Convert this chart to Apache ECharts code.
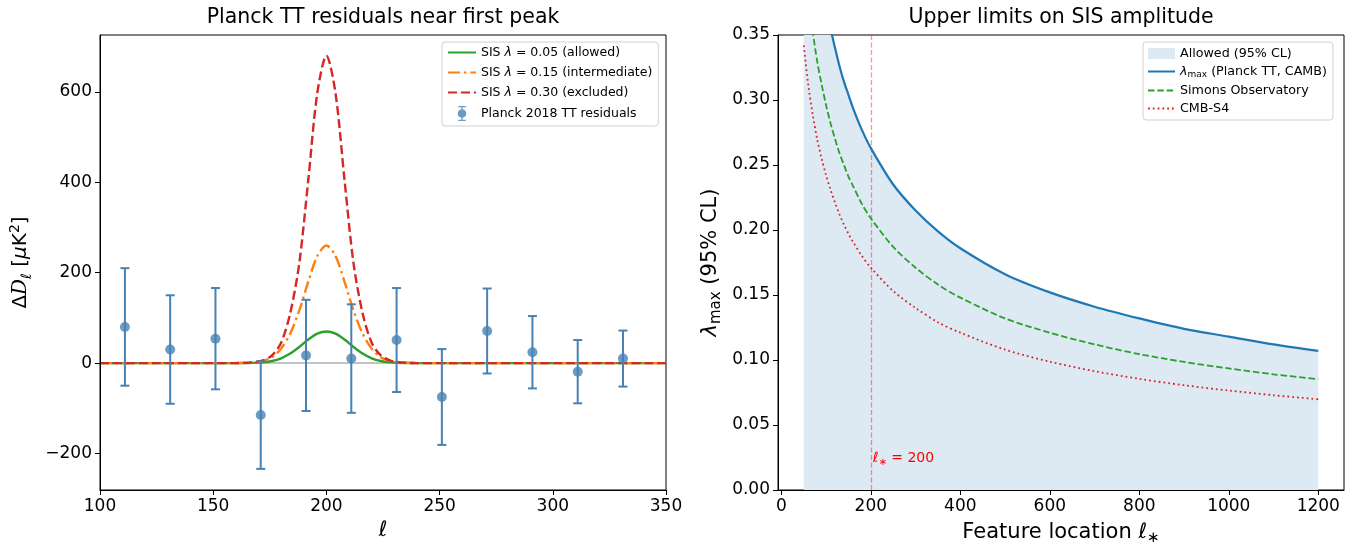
<!DOCTYPE html>
<html><head><meta charset="utf-8">
<script src="https://cdn.jsdelivr.net/npm/echarts@6/dist/echarts.min.js"></script>
<style>html,body{margin:0;padding:0;background:#fff}#c{width:1354px;height:542px}</style>
</head><body><div id="c"></div>
<script>
const FONT = 'DejaVu Sans';
// ---- Left panel data ----
const residEll = [111,131,151,171,191,211,231,251,271,291,311,331];
const residVal = [80,30,54,-115,17,10,51,-75,71,24,-19,10];
const residErr = [130,120,112,119,123,120,115,106,94,80,70,62];
const curveEll = [100,160,164,168,172,176,180,184,188,192,196,200,204,208,212,216,220,224,228,232,236,240,350];
const sis005 = [0,0,0.2,0.5,1.7,4.6,10.6,21,35.5,52,65,70,65,52,35.5,21,10.6,4.6,1.7,0.5,0.2,0,0];
const sis015 = [0,0,0.4,1.5,5,13,32,65,116,180,237,260,237,180,116,65,32,13,5,1.5,0.4,0,0];
const sis030 = [0,0,0.5,2,6,17,45,110,220,405,598,680,598,405,220,110,45,17,6,2,0.5,0,0];
const leftXTicks = [100,150,200,250,300,350];
const leftYTicks = [-200,0,200,400,600];
// ---- Right panel data ----
const starEll = [50,60,70,80,90,100,110,120,130,140,150,160,180,200,250,300,350,400,500,600,700,800,900,1000,1100,1200];
const lamPlanck = [0.526,0.480,0.445,0.416,0.392,0.372,0.355,0.340,0.326,0.314,0.304,0.294,0.277,0.263,0.235,0.215,0.199,0.186,0.166,0.152,0.141,0.132,0.124,0.118,0.112,0.107];
const lamSO = [0.418,0.382,0.353,0.330,0.312,0.296,0.282,0.270,0.259,0.250,0.241,0.234,0.220,0.209,0.187,0.171,0.158,0.148,0.132,0.121,0.112,0.1045,0.0985,0.0935,0.089,0.0853];
const lamS4 = [0.342,0.312,0.289,0.270,0.255,0.242,0.231,0.221,0.212,0.204,0.197,0.191,0.180,0.171,0.153,0.140,0.129,0.121,0.108,0.0987,0.0914,0.0855,0.0806,0.0765,0.0729,0.0698];
const rightXTicks = [0,200,400,600,800,1000,1200];
const rightYTicks = [0,0.05,0.10,0.15,0.20,0.25,0.30,0.35];
const featureEll = 200;
const featureLabelPos = [204, 0.024];

const pairs = (xs, ys) => xs.map((x, i) => [x, ys[i]]);
const chart = echarts.init(document.getElementById('c'), null, {renderer: 'canvas'});

const axisCommon = {
  z: 10,
  axisLine: {show: true, onZero: false, lineStyle: {color: '#000', width: 1}},
  axisTick: {show: true, length: 5, lineStyle: {color: '#000', width: 1}},
  splitLine: {show: false},
  axisLabel: {color: '#000', fontFamily: FONT, fontSize: 17, margin: 8}
};
const minus = v => (v < 0 ? '\u2212' + Math.abs(v) : String(v));

const legendRichLeft = {
  t: {fontFamily: FONT, fontSize: 12.5, lineHeight: 15, color: '#000'},
  i: {fontFamily: FONT, fontSize: 12.5, lineHeight: 15, fontStyle: 'italic', color: '#000'}
};
const legendRichRight = {
  t: {fontFamily: FONT, fontSize: 12.7, lineHeight: 15, color: '#000'},
  i: {fontFamily: FONT, fontSize: 12.7, lineHeight: 15, fontStyle: 'italic', color: '#000'},
  sub: {fontFamily: FONT, fontSize: 9, lineHeight: 9, color: '#000', verticalAlign: 'bottom'}
};
function fmtLam(name) {
  if (name.indexOf('λmax') === 0) return '{i|λ}{sub|max}{t|' + name.slice(4) + '}';
  if (name.indexOf('λ') >= 0) return '{t|' + name.replace('λ', '}{i|λ}{t|') + '}';
  return '{t|' + name + '}';
}
const noSym = {color: 'rgba(0,0,0,0)', borderColor: 'rgba(0,0,0,0)', borderWidth: 0};
const errIcon = 'path://M1,0H9V1.4H1Z M4.3,0H5.7V16H4.3Z M1,14.6H9V16H1Z M5,3.4A4.6,4.6 0 1 1 4.99,3.4Z';

const option = {
  animation: false,
  backgroundColor: '#fff',
  grid: [
    {left: 100, top: 35, width: 566, height: 455, outerBoundsMode: 'none', containLabel: false, show: true, borderColor: '#000', borderWidth: 1, backgroundColor: 'transparent'},
    {left: 778, top: 35, width: 566, height: 455, outerBoundsMode: 'none', containLabel: false, show: true, borderColor: '#000', borderWidth: 1, backgroundColor: 'transparent'}
  ],
  graphic: [
    {type: 'text', x: 383, y: 18, style: {text: 'Planck TT residuals near first peak', fontFamily: FONT, fontSize: 20.5, fill: '#000', textAlign: 'center', textVerticalAlign: 'middle'}},
    {type: 'text', x: 1061, y: 18, style: {text: 'Upper limits on SIS amplitude', fontFamily: FONT, fontSize: 20.5, fill: '#000', textAlign: 'center', textVerticalAlign: 'middle'}}
  ],
  xAxis: [
    Object.assign({}, axisCommon, {
      type: 'value', gridIndex: 0, min: 100, max: 350, interval: 50,
      axisLabel: Object.assign({}, axisCommon.axisLabel, {customValues: leftXTicks, formatter: v => String(v)}),
      axisTick: Object.assign({}, axisCommon.axisTick, {customValues: leftXTicks}),
      name: '{i|ℓ}', nameLocation: 'middle', nameGap: 30,
      nameTextStyle: {rich: {i: {fontFamily: FONT, fontSize: 21, fontStyle: 'italic', color: '#000'}}}
    }),
    Object.assign({}, axisCommon, {
      type: 'value', gridIndex: 1, min: -7.5, max: 1257.5,
      axisLabel: Object.assign({}, axisCommon.axisLabel, {customValues: rightXTicks, formatter: v => String(v)}),
      axisTick: Object.assign({}, axisCommon.axisTick, {customValues: rightXTicks}),
      name: '{a|Feature location }{i|ℓ}{s|∗}', nameLocation: 'middle', nameGap: 30,
      nameTextStyle: {rich: {
        a: {fontFamily: FONT, fontSize: 21, color: '#000', lineHeight: 26},
        i: {fontFamily: FONT, fontSize: 21, fontStyle: 'italic', color: '#000', lineHeight: 26},
        s: {fontFamily: FONT, fontSize: 15, color: '#000', lineHeight: 16, verticalAlign: 'bottom'}
      }}
    })
  ],
  yAxis: [
    Object.assign({}, axisCommon, {
      type: 'value', gridIndex: 0, min: -280.75, max: 725.75,
      axisLabel: Object.assign({}, axisCommon.axisLabel, {customValues: leftYTicks, formatter: minus}),
      axisTick: Object.assign({}, axisCommon.axisTick, {customValues: leftYTicks}),
      name: '{a|Δ}{d|D}{s|ℓ}{a| [}{m|μ}{a|K}{p|2}{a|]}', nameLocation: 'middle', nameGap: 66, nameRotate: 90,
      nameTextStyle: {rich: {
        a: {fontFamily: FONT, fontSize: 20, color: '#000', lineHeight: 26},
        d: {fontFamily: 'DejaVu Serif', fontSize: 20, fontStyle: 'italic', color: '#000', lineHeight: 26},
        s: {fontFamily: FONT, fontSize: 14, fontStyle: 'italic', color: '#000', lineHeight: 15, verticalAlign: 'bottom'},
        m: {fontFamily: FONT, fontSize: 20, fontStyle: 'italic', color: '#000', lineHeight: 26},
        p: {fontFamily: FONT, fontSize: 14, color: '#000', lineHeight: 15, verticalAlign: 'top'}
      }}
    }),
    Object.assign({}, axisCommon, {
      type: 'value', gridIndex: 1, min: 0, max: 0.35, interval: 0.05,
      axisLabel: Object.assign({}, axisCommon.axisLabel, {formatter: v => v.toFixed(2)}),
      name: '{i|λ}{sub|max}{a| (95% CL)}', nameLocation: 'middle', nameGap: 54, nameRotate: 90,
      nameTextStyle: {rich: {
        a: {fontFamily: FONT, fontSize: 21, color: '#000', lineHeight: 26},
        i: {fontFamily: FONT, fontSize: 21, fontStyle: 'italic', color: '#000', lineHeight: 26},
        sub: {fontFamily: FONT, fontSize: 15, color: '#000', lineHeight: 15, verticalAlign: 'bottom'}
      }}
    })
  ],
  legend: [
    {
      left: 442, top: 42, orient: 'vertical', selectedMode: false,
      data: [
        {name: 'SIS λ = 0.05 (allowed)', itemStyle: noSym},
        {name: 'SIS λ = 0.15 (intermediate)', itemStyle: noSym},
        {name: 'SIS λ = 0.30 (excluded)', itemStyle: noSym},
        {name: 'Planck 2018 TT residuals', icon: errIcon, itemStyle: {color: '#4682b4'}}
      ],
      itemWidth: 28, itemHeight: 15, itemGap: 7,
      padding: [4, 6, 5, 5],
      backgroundColor: '#fff', borderColor: '#d0d0d0', borderWidth: 1, borderRadius: 3,
      textStyle: {fontFamily: FONT, fontSize: 12.5, color: '#000', rich: legendRichLeft},
      formatter: fmtLam
    },
    {
      left: 1143, top: 42, orient: 'vertical', selectedMode: false,
      data: [
        {name: 'Allowed (95% CL)', icon: 'rect', itemStyle: {color: '#dde9f3'}},
        {name: 'λmax (Planck TT, CAMB)', itemStyle: noSym},
        {name: 'Simons Observatory', itemStyle: noSym},
        {name: 'CMB-S4', itemStyle: noSym}
      ],
      itemWidth: 27, itemHeight: 11, itemGap: 5,
      padding: [5, 6, 5, 4],
      backgroundColor: '#fff', borderColor: '#d0d0d0', borderWidth: 1, borderRadius: 3,
      textStyle: {fontFamily: FONT, fontSize: 12.7, color: '#000', rich: legendRichRight},
      formatter: fmtLam
    }
  ],
  series: [
    // ---- left panel ----
    {
      type: 'line', name: 'SIS λ = 0.05 (allowed)', xAxisIndex: 0, yAxisIndex: 0,
      data: pairs(curveEll, sis005), symbol: 'none', smooth: 0.3,
      lineStyle: {color: '#2ca02c', width: 2.4}, itemStyle: {color: '#2ca02c'}, z: 3,
      markLine: {silent: true, symbol: 'none', label: {show: false},
        lineStyle: {color: '#b0b0b0', width: 1.5, type: 'solid'}, data: [{yAxis: 0}], z: 1}
    },
    {
      type: 'line', name: 'SIS λ = 0.15 (intermediate)', xAxisIndex: 0, yAxisIndex: 0,
      data: pairs(curveEll, sis015), symbol: 'none', smooth: 0.3,
      lineStyle: {color: '#ff7f0e', width: 2.4, type: [12, 4, 2.4, 4]}, itemStyle: {color: '#ff7f0e'}, z: 3
    },
    {
      type: 'line', name: 'SIS λ = 0.30 (excluded)', xAxisIndex: 0, yAxisIndex: 0,
      data: pairs(curveEll, sis030), symbol: 'none', smooth: 0.3,
      lineStyle: {color: '#d62728', width: 2.4, type: [9, 4]}, itemStyle: {color: '#d62728'}, z: 3
    },
    {
      type: 'custom', name: 'errbars', xAxisIndex: 0, yAxisIndex: 0, silent: true, z: 4,
      data: residEll.map((x, i) => [x, residVal[i] - residErr[i], residVal[i] + residErr[i]]),
      encode: {x: 0, y: [1, 2]},
      renderItem: function (params, api) {
        const x = api.value(0);
        const lo = api.coord([x, api.value(1)]);
        const hi = api.coord([x, api.value(2)]);
        const cw = 4.5;
        const st = {stroke: '#4682b4', lineWidth: 2};
        return {type: 'group', children: [
          {type: 'line', shape: {x1: lo[0], y1: lo[1], x2: hi[0], y2: hi[1]}, style: st},
          {type: 'line', shape: {x1: lo[0] - cw, y1: lo[1], x2: lo[0] + cw, y2: lo[1]}, style: st},
          {type: 'line', shape: {x1: hi[0] - cw, y1: hi[1], x2: hi[0] + cw, y2: hi[1]}, style: st}
        ]};
      }
    },
    {
      type: 'scatter', name: 'Planck 2018 TT residuals', xAxisIndex: 0, yAxisIndex: 0,
      data: pairs(residEll, residVal), symbolSize: 10, itemStyle: {color: '#4682b4'}, z: 5
    },
    // ---- right panel ----
    {
      type: 'line', name: 'Allowed (95% CL)', xAxisIndex: 1, yAxisIndex: 1,
      data: pairs(starEll, lamPlanck), symbol: 'none', smooth: 0.3, clip: true,
      lineStyle: {width: 0, color: '#dde9f3'}, itemStyle: {color: '#dde9f3'},
      areaStyle: {color: '#dde9f3', opacity: 1}, z: 1,
      markLine: {silent: true, symbol: 'none', label: {show: false},
        lineStyle: {color: 'rgba(240,60,60,0.55)', width: 1.3, type: [5, 2.5]}, data: [{xAxis: featureEll}], z: 2},
      markPoint: {silent: true, symbol: 'circle', symbolSize: 0,
        data: [{coord: featureLabelPos}],
        label: {show: true, position: 'right', distance: 0, color: '#ff0000',
          formatter: '{i|ℓ}{s|∗}{t| = 200}',
          rich: {
            i: {fontFamily: FONT, fontSize: 14, fontStyle: 'italic', color: '#ff0000', lineHeight: 18},
            s: {fontFamily: FONT, fontSize: 10, color: '#ff0000', lineHeight: 13, verticalAlign: 'bottom'},
            t: {fontFamily: FONT, fontSize: 14, color: '#ff0000', lineHeight: 18}
          }}}
    },
    {
      type: 'line', name: 'λmax (Planck TT, CAMB)', xAxisIndex: 1, yAxisIndex: 1,
      data: pairs(starEll, lamPlanck), symbol: 'none', smooth: 0.3, clip: true,
      lineStyle: {color: '#1f77b4', width: 2.2}, itemStyle: {color: '#1f77b4'}, z: 4
    },
    {
      type: 'line', name: 'Simons Observatory', xAxisIndex: 1, yAxisIndex: 1,
      data: pairs(starEll, lamSO), symbol: 'none', smooth: 0.3, clip: true,
      lineStyle: {color: '#2ca02c', width: 1.8, type: [6.5, 2.8]}, itemStyle: {color: '#2ca02c'}, z: 4
    },
    {
      type: 'line', name: 'CMB-S4', xAxisIndex: 1, yAxisIndex: 1,
      data: pairs(starEll, lamS4), symbol: 'none', smooth: 0.3, clip: true,
      lineStyle: {color: '#d62728', width: 1.8, type: [1.8, 3]}, itemStyle: {color: '#d62728'}, z: 4
    }
  ]
};
chart.setOption(option);
</script>
</body></html>
